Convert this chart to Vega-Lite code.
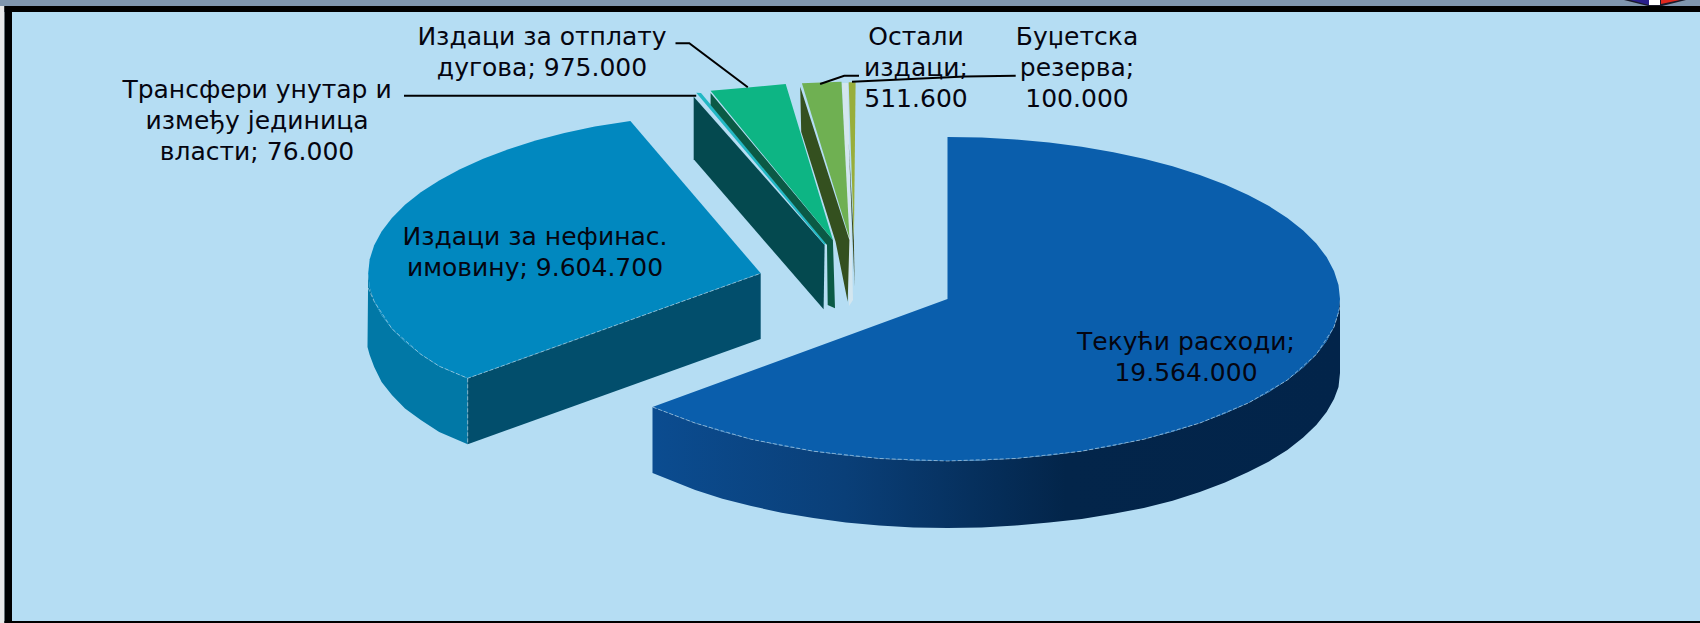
{"$schema":"https://vega.github.io/schema/vega-lite/v6.json","width":1700,"height":623,"padding":0,"autosize":{"type":"fit","contains":"padding"},"background":"#B5DDF3","view":{"stroke":null},
"resolve":{"scale":{"color":"independent"}},
"datasets":{
"frame":[{"part":"strip","x":0,"x2":1700,"y":0,"y2":6},{"part":"edge","x":0,"x2":4.5,"y":6,"y2":623},{"part":"border","x":4.5,"x2":1700,"y":6,"y2":12},{"part":"border","x":4.5,"x2":12,"y":6,"y2":623},{"part":"border","x":4.5,"x2":1700,"y":621,"y2":623}],
"wall":[
{"order":90,"x":1340,"y":299},{"order":95,"x":1338.5,"y":313.1},{"order":100,"x":1334,"y":327.1},{"order":105,"x":1326.6,"y":340.9},{"order":110,"x":1316.3,"y":354.4},{"order":115,"x":1303.2,"y":367.5},{"order":120,"x":1287.4,"y":380},{"order":125,"x":1269,"y":391.9},{"order":130,"x":1248.2,"y":403.1},{"order":135,"x":1225,"y":413.6},{"order":140,"x":1199.8,"y":423.1},{"order":145,"x":1172.6,"y":431.7},{"order":150,"x":1143.8,"y":439.3},{"order":155,"x":1113.4,"y":445.8},{"order":160,"x":1081.7,"y":451.2},{"order":165,"x":1049.1,"y":455.5},{"order":170,"x":1015.7,"y":458.5},{"order":175,"x":981.7,"y":460.4},{"order":180,"x":947.5,"y":461},{"order":185,"x":913.3,"y":460.4},{"order":190,"x":879.3,"y":458.5},{"order":195,"x":845.9,"y":455.5},{"order":200,"x":813.3,"y":451.2},{"order":205,"x":781.6,"y":445.8},{"order":210,"x":751.2,"y":439.3},{"order":215,"x":722.4,"y":431.7},{"order":220,"x":695.2,"y":423.1},{"order":225,"x":652.5,"y":407},
{"order":450,"x":652.5,"y":473},{"order":455,"x":695.2,"y":490},{"order":460,"x":722.4,"y":498.7},{"order":465,"x":751.2,"y":506},{"order":470,"x":781.6,"y":512.8},{"order":475,"x":813.3,"y":518},{"order":480,"x":845.9,"y":522.5},{"order":485,"x":879.3,"y":525.5},{"order":490,"x":913.3,"y":527.4},{"order":495,"x":947.5,"y":528},{"order":500,"x":981.7,"y":527.4},{"order":505,"x":1015.7,"y":525.5},{"order":510,"x":1049.1,"y":522.5},{"order":515,"x":1081.7,"y":519},{"order":520,"x":1113.4,"y":513.8},{"order":525,"x":1143.8,"y":508},{"order":530,"x":1172.6,"y":500.7},{"order":535,"x":1199.8,"y":492},{"order":540,"x":1225,"y":482.6},{"order":545,"x":1248.2,"y":472},{"order":550,"x":1269,"y":461.4},{"order":555,"x":1287.4,"y":450},{"order":560,"x":1303.2,"y":437.5},{"order":565,"x":1316.3,"y":425},{"order":570,"x":1326.6,"y":412},{"order":575,"x":1334,"y":399},{"order":580,"x":1338.5,"y":387},{"order":585,"x":1340,"y":373}],
"pieces":[
{"piece":"tek_top","order":0,"x":947.5,"y":137},{"piece":"tek_top","order":5,"x":981.7,"y":137.6},{"piece":"tek_top","order":10,"x":1015.7,"y":139.5},{"piece":"tek_top","order":15,"x":1049.1,"y":142.5},{"piece":"tek_top","order":20,"x":1081.7,"y":146.8},{"piece":"tek_top","order":25,"x":1113.4,"y":152.2},{"piece":"tek_top","order":30,"x":1143.8,"y":158.7},{"piece":"tek_top","order":35,"x":1172.6,"y":166.3},{"piece":"tek_top","order":40,"x":1199.8,"y":174.9},{"piece":"tek_top","order":45,"x":1225,"y":184.4},{"piece":"tek_top","order":50,"x":1248.2,"y":194.9},{"piece":"tek_top","order":55,"x":1269,"y":206.1},{"piece":"tek_top","order":60,"x":1287.4,"y":218},{"piece":"tek_top","order":65,"x":1303.2,"y":230.5},{"piece":"tek_top","order":70,"x":1316.3,"y":243.6},{"piece":"tek_top","order":75,"x":1326.6,"y":257.1},{"piece":"tek_top","order":80,"x":1334,"y":270.9},{"piece":"tek_top","order":85,"x":1338.5,"y":284.9},{"piece":"tek_top","order":90,"x":1340,"y":299},{"piece":"tek_top","order":95,"x":1338.5,"y":313.1},{"piece":"tek_top","order":100,"x":1334,"y":327.1},{"piece":"tek_top","order":105,"x":1326.6,"y":340.9},{"piece":"tek_top","order":110,"x":1316.3,"y":354.4},{"piece":"tek_top","order":115,"x":1303.2,"y":367.5},{"piece":"tek_top","order":120,"x":1287.4,"y":380},{"piece":"tek_top","order":125,"x":1269,"y":391.9},{"piece":"tek_top","order":130,"x":1248.2,"y":403.1},{"piece":"tek_top","order":135,"x":1225,"y":413.6},{"piece":"tek_top","order":140,"x":1199.8,"y":423.1},{"piece":"tek_top","order":145,"x":1172.6,"y":431.7},{"piece":"tek_top","order":150,"x":1143.8,"y":439.3},{"piece":"tek_top","order":155,"x":1113.4,"y":445.8},{"piece":"tek_top","order":160,"x":1081.7,"y":451.2},{"piece":"tek_top","order":165,"x":1049.1,"y":455.5},{"piece":"tek_top","order":170,"x":1015.7,"y":458.5},{"piece":"tek_top","order":175,"x":981.7,"y":460.4},{"piece":"tek_top","order":180,"x":947.5,"y":461},{"piece":"tek_top","order":185,"x":913.3,"y":460.4},{"piece":"tek_top","order":190,"x":879.3,"y":458.5},{"piece":"tek_top","order":195,"x":845.9,"y":455.5},{"piece":"tek_top","order":200,"x":813.3,"y":451.2},{"piece":"tek_top","order":205,"x":781.6,"y":445.8},{"piece":"tek_top","order":210,"x":751.2,"y":439.3},{"piece":"tek_top","order":215,"x":722.4,"y":431.7},{"piece":"tek_top","order":220,"x":695.2,"y":423.1},{"piece":"tek_top","order":225,"x":652.5,"y":407},{"piece":"tek_top","order":230,"x":947.5,"y":299},
{"piece":"nef_arcwall","order":90,"x":368.2,"y":273.3},{"piece":"nef_arcwall","order":95,"x":369.7,"y":287.4},{"piece":"nef_arcwall","order":100,"x":374.2,"y":301.4},{"piece":"nef_arcwall","order":105,"x":381.6,"y":315.2},{"piece":"nef_arcwall","order":110,"x":391.9,"y":328.7},{"piece":"nef_arcwall","order":115,"x":405,"y":341.8},{"piece":"nef_arcwall","order":120,"x":420.8,"y":354.3},{"piece":"nef_arcwall","order":125,"x":439.2,"y":366.2},{"piece":"nef_arcwall","order":130,"x":467.7,"y":378.3},{"piece":"nef_arcwall","order":135,"x":467.7,"y":444.3},{"piece":"nef_arcwall","order":140,"x":439.2,"y":432},{"piece":"nef_arcwall","order":145,"x":420.8,"y":420},{"piece":"nef_arcwall","order":150,"x":405,"y":408.5},{"piece":"nef_arcwall","order":155,"x":391.9,"y":395},{"piece":"nef_arcwall","order":160,"x":381.6,"y":382},{"piece":"nef_arcwall","order":165,"x":374.2,"y":367},{"piece":"nef_arcwall","order":170,"x":369.7,"y":355},{"piece":"nef_arcwall","order":175,"x":367.5,"y":347},
{"piece":"nef_wall","order":1,"x":467.7,"y":378.3},{"piece":"nef_wall","order":2,"x":760.7,"y":273.3},{"piece":"nef_wall","order":3,"x":760.7,"y":339},{"piece":"nef_wall","order":4,"x":467.7,"y":444.3},
{"piece":"nef_top","order":19,"x":630.4,"y":121},{"piece":"nef_top","order":25,"x":594.8,"y":126.5},{"piece":"nef_top","order":30,"x":564.4,"y":133},{"piece":"nef_top","order":35,"x":535.6,"y":140.6},{"piece":"nef_top","order":40,"x":508.4,"y":149.2},{"piece":"nef_top","order":45,"x":483.2,"y":158.7},{"piece":"nef_top","order":50,"x":460,"y":169.2},{"piece":"nef_top","order":55,"x":439.2,"y":180.4},{"piece":"nef_top","order":60,"x":420.8,"y":192.3},{"piece":"nef_top","order":65,"x":405,"y":204.8},{"piece":"nef_top","order":70,"x":391.9,"y":217.9},{"piece":"nef_top","order":75,"x":381.6,"y":231.4},{"piece":"nef_top","order":80,"x":374.2,"y":245.2},{"piece":"nef_top","order":85,"x":369.7,"y":259.2},{"piece":"nef_top","order":90,"x":368.2,"y":273.3},{"piece":"nef_top","order":95,"x":369.7,"y":287.4},{"piece":"nef_top","order":100,"x":374.2,"y":301.4},{"piece":"nef_top","order":105,"x":381.6,"y":315.2},{"piece":"nef_top","order":110,"x":391.9,"y":328.7},{"piece":"nef_top","order":115,"x":405,"y":341.8},{"piece":"nef_top","order":120,"x":420.8,"y":354.3},{"piece":"nef_top","order":125,"x":439.2,"y":366.2},{"piece":"nef_top","order":130,"x":467.7,"y":378.3},{"piece":"nef_top","order":140,"x":760.7,"y":273.3},
{"piece":"tra_wall","order":1,"x":693.7,"y":96.7},{"piece":"tra_wall","order":2,"x":824.6,"y":245},{"piece":"tra_wall","order":3,"x":823.6,"y":309.3},{"piece":"tra_wall","order":4,"x":693.7,"y":159.3},
{"piece":"tra_top","order":1,"x":696.2,"y":92.7},{"piece":"tra_top","order":2,"x":701,"y":93},{"piece":"tra_top","order":3,"x":826,"y":243},{"piece":"tra_top","order":4,"x":824.6,"y":245},
{"piece":"otp_wall","order":1,"x":710.6,"y":93},{"piece":"otp_wall","order":2,"x":832.9,"y":240},{"piece":"otp_wall","order":3,"x":835,"y":308.3},{"piece":"otp_wall","order":4,"x":827.7,"y":305},{"piece":"otp_wall","order":5,"x":827,"y":245},{"piece":"otp_wall","order":6,"x":710.6,"y":105},
{"piece":"otp_top","order":1,"x":710.6,"y":90.7},{"piece":"otp_top","order":2,"x":748,"y":87.5},{"piece":"otp_top","order":3,"x":785.7,"y":84},{"piece":"otp_top","order":4,"x":832.9,"y":240},
{"piece":"halo","order":1,"x":842,"y":83},{"piece":"halo","order":2,"x":848,"y":83},{"piece":"halo","order":3,"x":853,"y":300},{"piece":"halo","order":4,"x":849,"y":306},
{"piece":"ost_wall","order":1,"x":800.2,"y":86.7},{"piece":"ost_wall","order":2,"x":849.4,"y":240},{"piece":"ost_wall","order":3,"x":847.7,"y":301.7},{"piece":"ost_wall","order":4,"x":835.6,"y":241.7},{"piece":"ost_wall","order":5,"x":801.2,"y":131.7},
{"piece":"ost_top","order":1,"x":801.9,"y":83.3},{"piece":"ost_top","order":2,"x":821,"y":82.5},{"piece":"ost_top","order":3,"x":841.5,"y":81.7},{"piece":"ost_top","order":4,"x":849.4,"y":238},
{"piece":"bud_wall","order":1,"x":848.7,"y":143},{"piece":"bud_wall","order":2,"x":853.9,"y":240},{"piece":"bud_wall","order":3,"x":854.6,"y":286.7},
{"piece":"bud_top","order":1,"x":848.7,"y":82.3},{"piece":"bud_top","order":2,"x":855.6,"y":82.3},{"piece":"bud_top","order":3,"x":853.9,"y":240},
{"piece":"badge_base","order":1,"x":1624,"y":0},{"piece":"badge_base","order":2,"x":1686,"y":0},{"piece":"badge_base","order":3,"x":1662,"y":6},{"piece":"badge_base","order":4,"x":1648,"y":6},
{"piece":"badge_blue","order":1,"x":1630,"y":0},{"piece":"badge_blue","order":2,"x":1649,"y":0},{"piece":"badge_blue","order":3,"x":1649,"y":5},
{"piece":"badge_white","order":1,"x":1649,"y":0},{"piece":"badge_white","order":2,"x":1660,"y":0},{"piece":"badge_white","order":3,"x":1660,"y":5},{"piece":"badge_white","order":4,"x":1649,"y":5},
{"piece":"badge_red","order":1,"x":1661,"y":0},{"piece":"badge_red","order":2,"x":1680,"y":0},{"piece":"badge_red","order":3,"x":1661,"y":4}],
"rims":[
{"rim":"a","order":1,"x":1340,"y":307},{"rim":"a","order":2,"x":1334,"y":327.1},{"rim":"a","order":3,"x":1316.3,"y":354.4},{"rim":"a","order":4,"x":1287.4,"y":380},{"rim":"a","order":5,"x":1248.2,"y":403.1},{"rim":"a","order":6,"x":1199.8,"y":423.1},{"rim":"a","order":7,"x":1143.8,"y":439.3},{"rim":"a","order":8,"x":1081.7,"y":451.2},{"rim":"a","order":9,"x":1015.7,"y":458.5},{"rim":"a","order":10,"x":947.5,"y":461},{"rim":"a","order":11,"x":879.3,"y":458.5},{"rim":"a","order":12,"x":813.3,"y":451.2},{"rim":"a","order":13,"x":751.2,"y":439.3},{"rim":"a","order":14,"x":695.2,"y":423.1},{"rim":"a","order":15,"x":652.5,"y":407},
{"rim":"b","order":1,"x":368.2,"y":288},{"rim":"b","order":2,"x":374.2,"y":301.4},{"rim":"b","order":3,"x":391.9,"y":328.7},{"rim":"b","order":4,"x":420.8,"y":354.3},{"rim":"b","order":5,"x":439.2,"y":366.2},{"rim":"b","order":6,"x":467.7,"y":378.3},{"rim":"b","order":7,"x":760.7,"y":273.3},
{"rim":"c","order":1,"x":467.7,"y":378.3},{"rim":"c","order":2,"x":467.7,"y":444.3}],
"leaders":[
{"leader":"otplata","order":1,"x":675.5,"y":43.3},{"leader":"otplata","order":2,"x":689.3,"y":43.3},{"leader":"otplata","order":3,"x":747.8,"y":87.3},
{"leader":"transferi","order":1,"x":404,"y":95.7},{"leader":"transferi","order":2,"x":696.2,"y":95.7},
{"leader":"ostali","order":1,"x":859,"y":75.7},{"leader":"ostali","order":2,"x":844.2,"y":75.7},{"leader":"ostali","order":3,"x":820.1,"y":84},
{"leader":"budzet","order":1,"x":1015.7,"y":75.7},{"leader":"budzet","order":2,"x":965,"y":76.5},{"leader":"budzet","order":3,"x":852,"y":81.7}],
"labels":[
{"label":"Издаци за отплату\nдугова; 975.000","x":542,"y":37},
{"label":"Трансфери унутар и\nизмеђу јединица\nвласти; 76.000","x":257,"y":90},
{"label":"Издаци за нефинас.\nимовину; 9.604.700","x":535,"y":237},
{"label":"Остали\nиздаци;\n511.600","x":916,"y":37},
{"label":"Буџетска\nрезерва;\n100.000","x":1077,"y":37},
{"label":"Текући расходи;\n19.564.000","x":1186,"y":342}]},
"layer":[
{"data":{"name":"frame"},"mark":{"type":"rect"},"encoding":{"x":{"field":"x","type":"quantitative","scale":{"domain":[0,1700]},"axis":null},"x2":{"field":"x2"},"y":{"field":"y","type":"quantitative","scale":{"domain":[623,0]},"axis":null},"y2":{"field":"y2"},"color":{"field":"part","type":"nominal","legend":null,"scale":{"domain":["strip","edge","border"],"range":["#8096AE","#E8E8E8","#000000"]}}}},
{"data":{"name":"wall"},"mark":{"type":"line","filled":true,"strokeWidth":0,"color":{"gradient":"linear","x1":0,"y1":0,"x2":1,"y2":0,"stops":[{"offset":0,"color":"#0B4C90"},{"offset":0.28,"color":"#0A3F78"},{"offset":0.6,"color":"#03254A"},{"offset":1,"color":"#02244A"}]}},"encoding":{"x":{"field":"x","type":"quantitative","scale":{"domain":[0,1700]},"axis":null},"y":{"field":"y","type":"quantitative","scale":{"domain":[623,0]},"axis":null},"order":{"field":"order","type":"quantitative"}}},
{"data":{"name":"pieces"},"mark":{"type":"line","filled":true,"strokeWidth":0},"encoding":{"x":{"field":"x","type":"quantitative","scale":{"domain":[0,1700]},"axis":null},"y":{"field":"y","type":"quantitative","scale":{"domain":[623,0]},"axis":null},"order":{"field":"order","type":"quantitative"},"color":{"field":"piece","type":"nominal","legend":null,"scale":{"domain":["tek_top","nef_arcwall","nef_wall","nef_top","tra_wall","tra_top","otp_wall","otp_top","halo","ost_wall","ost_top","bud_wall","bud_top","badge_base","badge_blue","badge_white","badge_red"],"range":["#0A5EAC","#0178A6","#024E6C","#0188BF","#04494F","#22B8C4","#0B5A45","#0DB584","#D3E6EF","#34501F","#6FB052","#3B4A20","#98AE3B","#1A1A2A","#2A1F8C","#FFFFFF","#E0291F"]}}}},
{"data":{"name":"rims"},"mark":{"type":"line","stroke":"#C5DCEA","strokeWidth":1,"strokeDash":[4,2],"opacity":0.6},"encoding":{"x":{"field":"x","type":"quantitative","scale":{"domain":[0,1700]},"axis":null},"y":{"field":"y","type":"quantitative","scale":{"domain":[623,0]},"axis":null},"order":{"field":"order","type":"quantitative"},"detail":{"field":"rim"}}},
{"data":{"name":"leaders"},"mark":{"type":"line","stroke":"#000000","strokeWidth":2},"encoding":{"x":{"field":"x","type":"quantitative","scale":{"domain":[0,1700]},"axis":null},"y":{"field":"y","type":"quantitative","scale":{"domain":[623,0]},"axis":null},"order":{"field":"order","type":"quantitative"},"detail":{"field":"leader"}}},
{"data":{"name":"labels"},"mark":{"type":"text","font":"DejaVu Sans","fontSize":25,"lineHeight":31,"lineBreak":"\n","align":"center","baseline":"middle","color":"#050510"},"encoding":{"x":{"field":"x","type":"quantitative","scale":{"domain":[0,1700]},"axis":null},"y":{"field":"y","type":"quantitative","scale":{"domain":[623,0]},"axis":null},"text":{"field":"label"}}}
]}
